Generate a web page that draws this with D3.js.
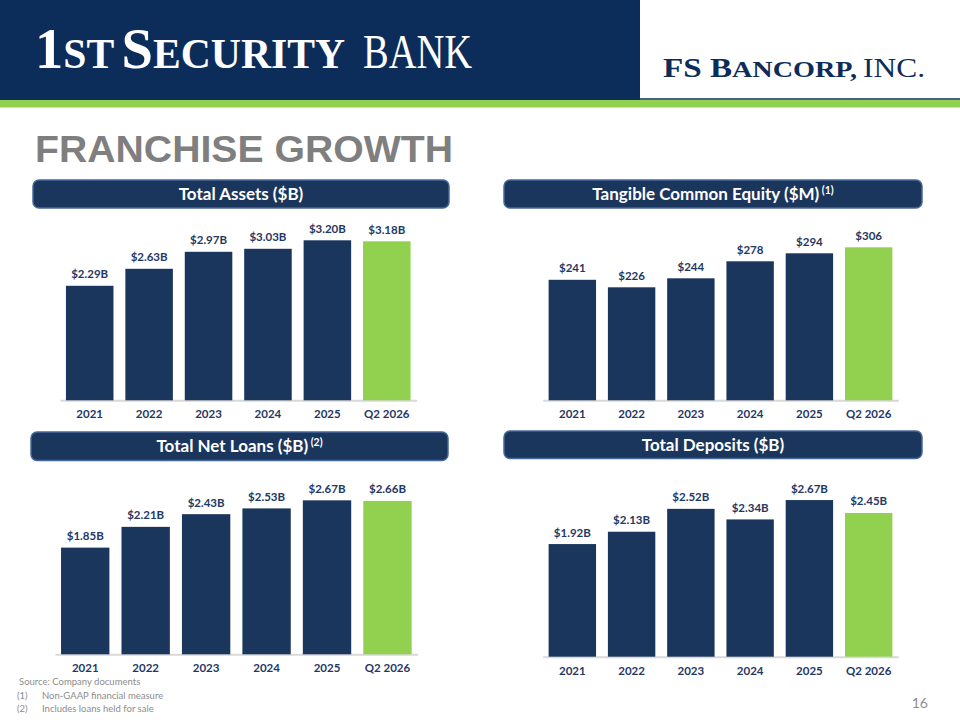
<!DOCTYPE html>
<html lang="en">
<head>
  <meta charset="UTF-8">
  <title>Franchise Growth</title>
  <style>
    body { margin: 0; background: #fff; }
    svg { display: block; }
    .bar-label { font-family: Lato, "Open Sans", sans-serif; font-weight: 700; font-size: 11.5px; fill: #1f3864; }
    .axis text { font-family: Lato, "Open Sans", sans-serif; font-weight: 700; font-size: 11.5px; fill: #1f3864; }
    .axis path { stroke: #d9d9d9; stroke-width: 2; }
    .panel-title { font-family: Lato, "Open Sans", sans-serif; font-weight: 700; font-size: 17px; fill: #fff; }
    .note { font-family: Lato, "Open Sans", sans-serif; font-size: 9.5px; fill: #8c8c8c; }
  </style>
</head>
<body>
  <div id="chart"></div>
  <script src="https://cdn.jsdelivr.net/npm/d3@7"></script>
  <script>
    // values
    var categories = ['2021', '2022', '2023', '2024', '2025', 'Q2 2026'];
    var totalAssets = [2.29, 2.63, 2.97, 3.03, 3.20, 3.18];
    var tangibleEquity = [241, 226, 244, 278, 294, 306];
    var netLoans = [1.85, 2.21, 2.43, 2.53, 2.67, 2.66];
    var totalDeposits = [1.92, 2.13, 2.52, 2.34, 2.67, 2.45];

    var navy = '#1b365d';
    var green = '#92d050';

    var svg = d3.select('#chart').append('svg')
      .attr('width', 960)
      .attr('height', 720);

    // ---- slide header ----
    svg.append('rect').attr('x', 0).attr('y', 0).attr('width', 640).attr('height', 100).attr('fill', '#0c2c5a');
    svg.append('line').attr('x1', 640).attr('x2', 960).attr('y1', 99).attr('y2', 99)
      .attr('stroke', '#0c2c5a').attr('stroke-width', 1.5);
    svg.append('rect').attr('x', 0).attr('y', 100).attr('width', 960).attr('height', 7.5).attr('fill', green);

    var logo = svg.append('text')
      .attr('x', 35).attr('y', 68)
      .attr('fill', '#fff')
      .attr('font-family', '"Liberation Serif", "DejaVu Serif", serif')
      .attr('font-weight', 700)
      .attr('textLength', 310)
      .attr('lengthAdjust', 'spacingAndGlyphs');
    logo.append('tspan').attr('font-size', 57).text('1');
    logo.append('tspan').attr('font-size', 42).text('ST');
    logo.append('tspan').attr('font-size', 30).text(' ');
    logo.append('tspan').attr('font-size', 57).text('S');
    logo.append('tspan').attr('font-size', 42).text('ECURITY');
    svg.append('text')
      .attr('x', 363).attr('y', 68)
      .attr('fill', '#fff')
      .attr('font-family', '"Liberation Serif", "DejaVu Serif", serif')
      .attr('font-size', 48)
      .attr('textLength', 109)
      .attr('lengthAdjust', 'spacingAndGlyphs')
      .text('BANK');

    var fs = svg.append('text')
      .attr('x', 663).attr('y', 77)
      .attr('fill', '#0c2c5a')
      .attr('font-family', '"Liberation Serif", "DejaVu Serif", serif')
      .attr('font-weight', 700)
      .attr('textLength', 194)
      .attr('lengthAdjust', 'spacingAndGlyphs');
    fs.append('tspan').attr('font-size', 27).text('FS B');
    fs.append('tspan').attr('font-size', 23).text('ANCORP,');
    svg.append('text')
      .attr('x', 863).attr('y', 77)
      .attr('fill', '#0c2c5a')
      .attr('font-family', '"Liberation Serif", "DejaVu Serif", serif')
      .attr('font-size', 27)
      .attr('textLength', 62)
      .attr('lengthAdjust', 'spacingAndGlyphs')
      .text('INC.');

    svg.append('text')
      .attr('x', 35).attr('y', 162)
      .attr('fill', '#7f7f7f')
      .attr('font-family', '"Liberation Sans", Arial, sans-serif')
      .attr('font-weight', 700)
      .attr('font-size', 36.5)
      .attr('textLength', 418)
      .attr('lengthAdjust', 'spacingAndGlyphs')
      .text('FRANCHISE GROWTH');

    // ---- the four bar panels ----
    function fmtB(d) { return '$' + d.toFixed(2) + 'B'; }
    function fmtM(d) { return '$' + d; }

    var panels = [
      { title: 'Total Assets ($B)', note: '', values: totalAssets, fmt: fmtB, yMax: 3.5,
        box: [33, 180, 416, 28], x0: 60, x1: 416.5, base: 400.3, h: 175 },
      { title: 'Tangible Common Equity ($M)', note: '(1)', values: tangibleEquity, fmt: fmtM, yMax: 350,
        box: [504, 180, 418, 28], x0: 542.7, x1: 898.3, base: 400.3, h: 175 },
      { title: 'Total Net Loans ($B)', note: '(2)', values: netLoans, fmt: fmtB, yMax: 3.0,
        box: [31, 432, 417, 28.5], x0: 55, x1: 417.7, base: 654.3, h: 173 },
      { title: 'Total Deposits ($B)', note: '', values: totalDeposits, fmt: fmtB, yMax: 3.0,
        box: [504, 431, 418, 27.5], x0: 542.7, x1: 898.3, base: 656.7, h: 176 }
    ];

    panels.forEach(function (p) {
      var g = svg.append('g');

      g.append('rect')
        .attr('x', p.box[0]).attr('y', p.box[1])
        .attr('width', p.box[2]).attr('height', p.box[3])
        .attr('rx', 6).attr('ry', 6)
        .attr('fill', navy)
        .attr('stroke', '#47699a')
        .attr('stroke-width', 1.5);

      var t = g.append('text')
        .attr('class', 'panel-title')
        .attr('x', p.box[0] + p.box[2] / 2)
        .attr('y', p.box[1] + p.box[3] / 2 + 6)
        .attr('text-anchor', 'middle');
      t.append('tspan').text(p.title);
      if (p.note) {
        t.append('tspan').attr('font-size', 10.5).attr('dy', -6).text(' ' + p.note);
      }

      var x = d3.scaleBand()
        .domain(categories)
        .range([p.x0, p.x1])
        .paddingInner(0.2)
        .paddingOuter(0.1);

      var y = d3.scaleLinear()
        .domain([0, p.yMax])
        .range([p.base, p.base - p.h]);

      g.append('g')
        .attr('class', 'axis')
        .attr('transform', 'translate(0,' + p.base + ')')
        .call(d3.axisBottom(x).tickSize(0).tickPadding(10))
        .call(function (a) { a.selectAll('.tick line').remove(); });

      var rows = categories.map(function (c, i) { return { cat: c, val: p.values[i], last: i === categories.length - 1 }; });

      g.selectAll('rect.bar')
        .data(rows)
        .enter()
        .append('rect')
        .attr('class', 'bar')
        .attr('x', function (d) { return x(d.cat); })
        .attr('width', x.bandwidth())
        .attr('y', function (d) { return y(d.val); })
        .attr('height', function (d) { return y(0) - y(d.val); })
        .attr('fill', function (d) { return d.last ? green : navy; });

      g.selectAll('text.bar-label')
        .data(rows)
        .enter()
        .append('text')
        .attr('class', 'bar-label')
        .attr('text-anchor', 'middle')
        .attr('x', function (d) { return x(d.cat) + x.bandwidth() / 2; })
        .attr('y', function (d) { return y(d.val) - 7.5; })
        .text(function (d) { return p.fmt(d.val); });
    });

    // ---- footnotes ----
    svg.append('text').attr('class', 'note').attr('x', 19).attr('y', 685).text('Source: Company documents');
    svg.append('text').attr('class', 'note').attr('x', 17).attr('y', 699).text('(1)');
    svg.append('text').attr('class', 'note').attr('x', 42).attr('y', 699).text('Non-GAAP financial measure');
    svg.append('text').attr('class', 'note').attr('x', 17).attr('y', 712).text('(2)');
    svg.append('text').attr('class', 'note').attr('x', 42).attr('y', 712).text('Includes loans held for sale');

    svg.append('text')
      .attr('x', 928).attr('y', 708)
      .attr('text-anchor', 'end')
      .attr('fill', '#8c8c8c')
      .attr('font-family', 'Lato, "Open Sans", sans-serif')
      .attr('font-size', 14)
      .text('16');
  </script>
</body>
</html>
